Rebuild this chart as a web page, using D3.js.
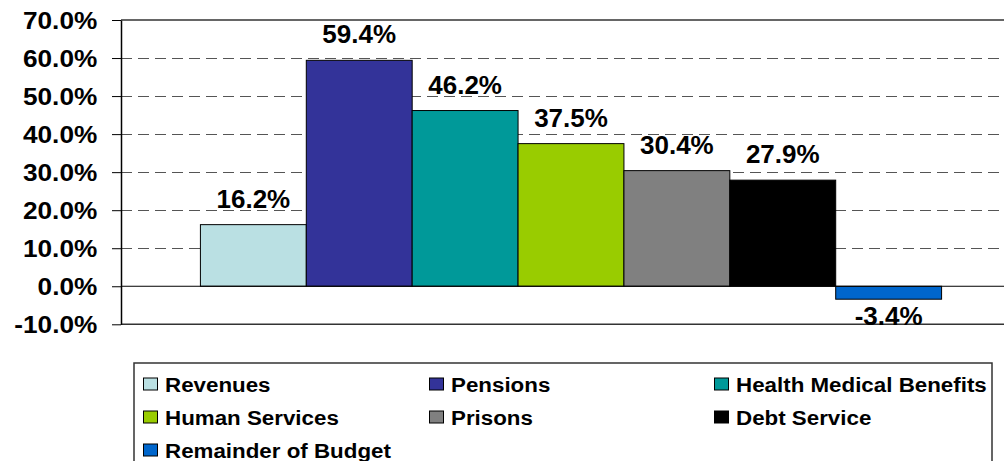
<!DOCTYPE html>
<html>
<head>
<meta charset="utf-8">
<script src="https://cdn.jsdelivr.net/npm/d3@7"></script>
<style>
  body { margin: 0; background: #fff; }
  svg { display: block; font-family: "Liberation Sans", Arial, sans-serif; font-weight: bold; }
</style>
</head>
<body>
<div id="chart"></div>
<script>
	// data
	var categories = [""];
	var seriesNames = ["Revenues", "Pensions", "Health Medical Benefits", "Human Services", "Prisons", "Debt Service", "Remainder of Budget"];
	var seriesValues = [16.2, 59.4, 46.2, 37.5, 30.4, 27.9, -3.4];
	var seriesColors = ["#BAE0E3", "#333399", "#009999", "#99CC00", "#808080", "#000000", "#0066CC"];
	var yTicks = [-10, 0, 10, 20, 30, 40, 50, 60, 70];

	// chart dimensions
	var width = 1004;
	var height = 461;
	var plotLeft = 121, plotRight = 1021, plotTop = 20, plotBottom = 324.3;

	var svg = d3.select('#chart')
	.append('svg')
	.attr('width', width)
	.attr('height', height);

	var y = d3.scaleLinear()
	.domain([-10, 70])
	.range([plotBottom, plotTop]);

	// one category, gap of 1.5 bar widths between clusters
	var x0 = d3.scaleBand()
	.domain(categories)
	.range([plotLeft, plotRight])
	.paddingInner(0)
	.paddingOuter(0.75 / 7);

	var x1 = d3.scaleBand()
	.domain(seriesNames)
	.range([0, x0.bandwidth()]);

	var color = d3.scaleOrdinal(seriesColors).domain(seriesNames);

	// gridlines
	svg.append('g')
	.selectAll('line')
	.data(yTicks.filter(function(d) { return d > 0 && d < 70; }))
	.enter()
	.append('line')
	.attr('x1', plotLeft)
	.attr('x2', plotRight)
	.attr('y1', function(d) { return y(d); })
	.attr('y2', function(d) { return y(d); })
	.attr('stroke', '#555')
	.attr('stroke-width', 1)
	.attr('stroke-dasharray', '11,6')
	.attr('shape-rendering', 'crispEdges');

	// plot area border top & bottom
	svg.append('g')
	.selectAll('line')
	.data([70, -10])
	.enter()
	.append('line')
	.attr('x1', plotLeft)
	.attr('x2', plotRight)
	.attr('y1', function(d) { return y(d); })
	.attr('y2', function(d) { return y(d); })
	.attr('stroke', '#333')
	.attr('stroke-width', 1.5);

	var rows = seriesNames.map(function(n, i) { return { name: n, value: seriesValues[i], cat: categories[0] }; });

	// bars
	svg.append('g')
	.selectAll('rect')
	.data(rows)
	.enter()
	.append('rect')
	.attr('x', function(d) { return x0(d.cat) + x1(d.name); })
	.attr('y', function(d) { return y(Math.max(0, d.value)); })
	.attr('width', x1.bandwidth())
	.attr('height', function(d) { return Math.abs(y(d.value) - y(0)); })
	.attr('fill', function(d) { return color(d.name); })
	.attr('stroke', '#000')
	.attr('stroke-width', 1);

	// zero line
	svg.append('line')
	.attr('x1', plotLeft)
	.attr('x2', plotRight)
	.attr('y1', y(0))
	.attr('y2', y(0))
	.attr('stroke', '#000')
	.attr('stroke-width', 1);

	// y axis
	var yAxis = d3.axisLeft(y)
	.tickValues(yTicks)
	.tickSize(9)
	.tickSizeOuter(0)
	.tickFormat(function(d) { return d.toFixed(1) + '%'; });

	var axisG = svg.append('g')
	.attr('transform', 'translate(' + plotLeft + ',0)')
	.call(yAxis);

	axisG.select('.domain').attr('stroke', '#000').attr('stroke-width', 1.5);
	axisG.selectAll('.tick line').attr('stroke', '#000');
	axisG.selectAll('.tick text')
	.attr('x', null)
	.attr('dy', null)
	.attr('fill', '#000')
	.attr('text-anchor', 'end')
	.style('font-size', '23px')
	.style('font-family', '"Liberation Sans", Arial, sans-serif')
	.style('font-weight', 'bold')
	.attr('transform', 'translate(-23.7,8) scale(1.14,1)');

	// data labels
	svg.append('g')
	.selectAll('text')
	.data(rows)
	.enter()
	.append('text')
	.attr('x', function(d) { return x0(d.cat) + x1(d.name) + x1.bandwidth() / 2; })
	.attr('y', function(d) { return d.value >= 0 ? y(d.value) - 17 : y(d.value) + 26; })
	.attr('text-anchor', 'middle')
	.style('font-size', '26px')
	.text(function(d) { return d.value.toFixed(1) + '%'; });

	// legend
	var legendLeft = 134, legendTop = 363, legendRight = 992;
	var colX = [143, 429, 714];
	var rowY = [391.5, 424.5, 457.5];

	svg.append('rect')
	.attr('x', legendLeft)
	.attr('y', legendTop)
	.attr('width', legendRight - legendLeft)
	.attr('height', 120)
	.attr('fill', '#fff')
	.attr('stroke', '#333')
	.attr('stroke-width', 1.5);

	var legend = svg.selectAll('.legend')
	.data(seriesNames)
	.enter()
	.append('g')
	.attr('class', 'legend')
	.attr('transform', function(d, i) {
		return 'translate(' + colX[i % 3] + ',' + rowY[Math.floor(i / 3)] + ')';
	});

	legend.append('rect')
	.attr('x', 0.5)
	.attr('y', -13.5)
	.attr('width', 14)
	.attr('height', 12)
	.attr('fill', color)
	.attr('stroke', '#000')
	.attr('stroke-width', 1);

	legend.append('text')
	.attr('transform', 'translate(22,0) scale(1.09,1)')
	.style('font-size', '20.5px')
	.text(function(d) { return d; });
</script>
</body>
</html>
